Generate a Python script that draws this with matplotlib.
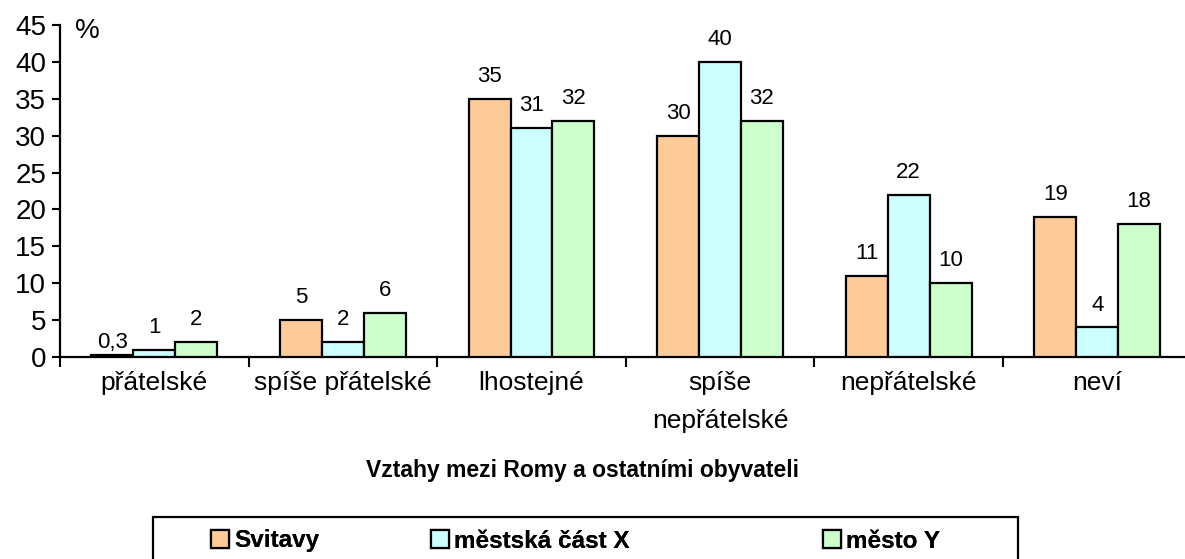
import matplotlib.pyplot as plt
import matplotlib.patches as mpatches
import numpy as np

plt.rcParams['font.family'] = ['Liberation Sans', 'DejaVu Sans']

categories = ['přátelské', 'spíše přátelské', 'lhostejné', 'spíše\nnepřátelské', 'nepřátelské', 'neví']
series_names = ['Svitavy', 'městská část X', 'město Y']
svitavy = [0.3, 5, 35, 30, 11, 19]
mestska_cast = [1, 2, 31, 40, 22, 4]
mesto = [2, 6, 32, 32, 10, 18]
colors = ['#FFCC99', '#CCFFFF', '#CCFFCC']

W, H = 1185, 559
fig = plt.figure(figsize=(W / 100, H / 100), dpi=100)
ax = fig.add_axes([60 / W, (H - 357) / H, (W - 60) / W, (357 - 25) / H])

x = np.arange(len(categories))
width = 0.222
bars = []
for i, vals in enumerate([svitavy, mestska_cast, mesto]):
    pos = x + (i - 1) * width
    b = ax.bar(pos, vals, width, color=colors[i], edgecolor='black', linewidth=1.6,
               label=series_names[i], zorder=3)
    bars.append(b)
    for p, v in zip(pos, vals):
        txt = str(v).replace('.', ',')
        # the tiny 0,3 label sits almost on its bar
        off = 1 if v < 1 else 8.5
        ax.annotate(txt, (p, v), xytext=(0, off), textcoords='offset points',
                    ha='center', va='bottom', fontsize=16)

ax.set_ylim(0, 45)
ax.set_xlim(-0.5, -0.5 + (W - 60) / 188.6)
ax.set_yticks(range(0, 46, 5))
ax.tick_params(axis='y', labelsize=20, length=6, width=1.5, direction='out', pad=4)

# category ticks sit between the groups
ax.set_xticks(np.arange(0, len(categories)) - 0.5, minor=False)
ax.set_xticklabels([])
ax.set_xticks(x, minor=True)
ax.set_xticklabels(categories, minor=True, fontsize=19, linespacing=1.75)
ax.tick_params(axis='x', which='major', length=7, width=1.5, direction='out')
ax.tick_params(axis='x', which='minor', length=0, pad=10)

for s in ['top', 'right']:
    ax.spines[s].set_visible(False)
for s in ['left', 'bottom']:
    ax.spines[s].set_linewidth(1.6)

fig.text(75 / W, (H - 31) / H, '%', fontsize=20, va='center')

fig.text(583 / W, (H - 470) / H, 'Vztahy mezi Romy a ostatními obyvateli',
         ha='center', va='center', fontsize=16.5, fontweight='bold')

# legend frame, cut by the bottom edge like in the original
frame = mpatches.Rectangle((153 / W, -0.05), (1018 - 153) / W, (H - 517) / H + 0.05,
                           transform=fig.transFigure, fill=False, edgecolor='black',
                           linewidth=1.6)
fig.add_artist(frame)
legend_x = [211, 431, 823]
for i in range(3):
    lg = fig.legend(handles=[bars[i]], labels=[series_names[i]], loc='center left',
                    bbox_to_anchor=(legend_x[i] / W, (H - 541) / H), frameon=False,
                    prop={'weight': 'bold', 'size': 17.5}, handlelength=0.75, handleheight=0.75,
                    handletextpad=0.2, borderpad=0, borderaxespad=0)
    fig.add_artist(lg)

fig.savefig('out.png', dpi=100)
